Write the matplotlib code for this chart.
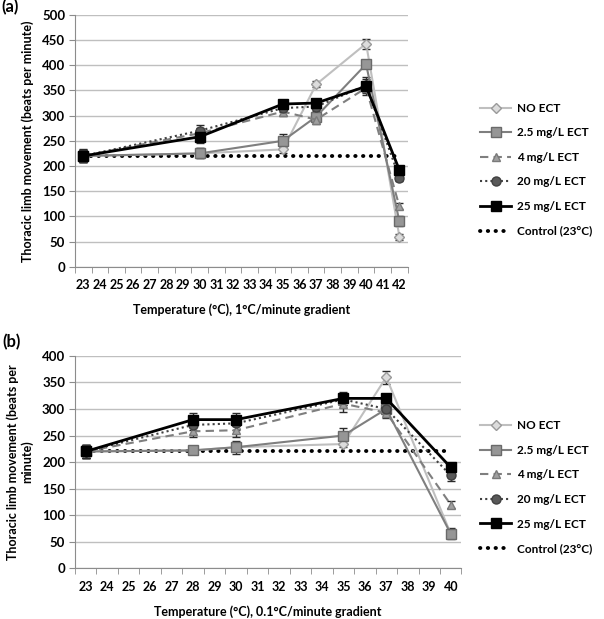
import matplotlib
matplotlib.use("Agg")
import matplotlib.pyplot as plt
from matplotlib.lines import Line2D
from matplotlib.ticker import FixedLocator, NullFormatter

plt.rcParams['font.family'] = ['Lato', 'DejaVu Sans']
plt.rcParams['font.weight'] = 'bold'

# --- data ---
series_names = ['NO ECT', '2.5 mg/L ECT', '4 mg/L ECT', '20 mg/L ECT', '25 mg/L ECT']
control_label = 'Control (23°C)'
control_value = 220

cats_a = list(range(23, 43))
temps_a = [23, 30, 35, 37, 40, 42]
vals_a = [
    [220, 225, 233, 362, 443, 60],   # NO ECT
    [220, 225, 250, 298, 402, 90],   # 2.5
    [220, 265, 308, 292, 355, 120],  # 4
    [220, 270, 315, 318, 360, 177],  # 20
    [220, 258, 323, 325, 358, 192],  # 25
]
errs_a = [
    [12, 10, 8, 6, 10, 6],
    [12, 10, 13, 8, 6, 10],
    [12, 10, 8, 8, 10, 6],
    [12, 12, 8, 8, 12, 6],
    [13, 13, 6, 8, 18, 6],
]

cats_b = list(range(23, 41))
temps_b = [23, 28, 30, 35, 37, 40]
vals_b = [
    [220, 222, 228, 234, 360, 65],   # NO ECT
    [220, 222, 228, 250, 300, 65],   # 2.5
    [220, 258, 260, 310, 293, 120],  # 4
    [220, 270, 273, 318, 300, 175],  # 20
    [220, 280, 280, 320, 320, 190],  # 25
]
errs_b = [
    [12, 6, 8, 6, 12, 8],
    [12, 6, 12, 15, 10, 10],
    [12, 10, 12, 15, 10, 6],
    [12, 10, 12, 10, 10, 10],
    [13, 12, 12, 12, 8, 6],
]

# --- styles ---
styles = [
    dict(color='#bfbfbf', ls='-', lw=1.5, marker='D', ms=5, mfc='#dcdcdc', mec='#9a9a9a'),
    dict(color='#7f7f7f', ls='-', lw=1.5, marker='s', ms=7, mfc='#969696', mec='#6a6a6a'),
    dict(color='#7f7f7f', ls=(0, (4, 2.5)), lw=1.5, marker='^', ms=6, mfc='#a0a0a0', mec='#7a7a7a'),
    dict(color='#404040', ls=(0, (1, 1.5)), lw=1.5, marker='o', ms=6.5, mfc='#595959', mec='#404040'),
    dict(color='black', ls='-', lw=2, marker='s', ms=6.5, mfc='black', mec='black'),
]
control_style = dict(color='black', ls=(0, (0.1, 1.9)), lw=2.8, dash_capstyle='round')


def draw_panel(ax, cats, temps, vals, errs, xlabel):
    xpos = [cats.index(t) for t in temps]
    allpos = list(range(len(cats)))
    ax.plot(allpos, [control_value] * len(cats), zorder=2, **control_style)
    for v, e, st in zip(vals, errs, styles):
        ax.errorbar(xpos, v, yerr=e, ecolor='#2a2a2a', elinewidth=1,
                    capsize=3, capthick=1, zorder=3, **st)
    ax.set_xlim(-0.5, len(cats) - 0.5)
    ax.xaxis.set_major_locator(FixedLocator(allpos))
    ax.set_xticklabels([str(c) for c in cats])
    ax.xaxis.set_minor_locator(FixedLocator([i - 0.5 for i in range(len(cats) + 1)]))
    ax.xaxis.set_minor_formatter(NullFormatter())
    ax.tick_params(axis='x', which='major', length=0, pad=9, labelsize=9)
    ax.tick_params(axis='x', which='minor', length=4, color='#8c8c8c', direction='out')
    ax.tick_params(axis='y', length=4, color='#8c8c8c', labelsize=9.5, pad=3)
    ax.grid(axis='y', color='#bfbfbf', lw=1)
    ax.set_axisbelow(True)
    for s in ['top', 'right']:
        ax.spines[s].set_visible(False)
    for s in ['left', 'bottom']:
        ax.spines[s].set_color('#8c8c8c')
    ax.set_xlabel(xlabel, fontsize=9, fontweight='bold', labelpad=9)
    for lab in ax.get_xticklabels() + ax.get_yticklabels():
        lab.set_fontweight('bold')


fig = plt.figure(figsize=(6.04, 6.19), dpi=100)
ax_a = fig.add_axes([0.124, 0.569, 0.551, 0.407])
ax_b = fig.add_axes([0.124, 0.082, 0.640, 0.343])

draw_panel(ax_a, cats_a, temps_a, vals_a, errs_a, 'Temperature (°C), 1°C/minute gradient')
ax_a.set_ylim(0, 500)
ax_a.set_yticks(range(0, 501, 50))
ax_a.set_ylabel('Thoracic limb movement (beats per minute)', fontsize=9, fontweight='bold', labelpad=6)

draw_panel(ax_b, cats_b, temps_b, vals_b, errs_b, 'Temperature (°C), 0.1°C/minute gradient')
ax_b.set_ylim(0, 400)
ax_b.set_yticks(range(0, 401, 50))
ax_b.set_ylabel('Thoracic limb movement (beats per\nminute)', fontsize=9, fontweight='bold', labelpad=6)

fig.text(0.002, 0.988, '(a)', fontsize=12, fontweight='bold', va='center')
fig.text(0.004, 0.447, '(b)', fontsize=12, fontweight='bold', va='center')

# legend without error bars
handles = [Line2D([], [], **st) for st in styles] + [Line2D([], [], **control_style)]
labels = series_names + [control_label]


def add_legend(ytop):
    fig.legend(handles, labels, loc='upper left', bbox_to_anchor=(0.795, ytop),
               frameon=False, handlelength=2.6, labelspacing=1.15, handletextpad=0.5,
               borderaxespad=0, borderpad=0, prop={'weight': 'bold', 'size': 8.5})


add_legend(0.834)
add_legend(0.321)

fig.savefig('out.png', dpi=100)
